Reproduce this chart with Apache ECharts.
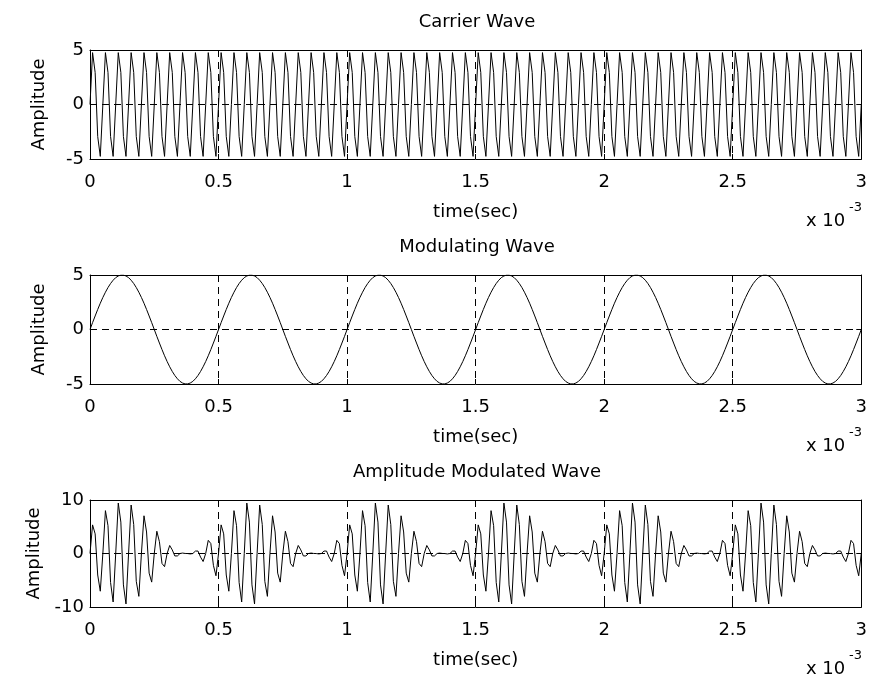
<!DOCTYPE html>
<html>
<head>
<meta charset="utf-8">
<script src="https://cdn.jsdelivr.net/npm/echarts@6/dist/echarts.min.js"></script>
<style>
html, body { margin: 0; padding: 0; background: #fff; }
#main { width: 870px; height: 680px; }
</style>
</head>
<body>
<div id="main"></div>
<script>
// sampled waves, one value every 0.01 ms (x 10^-3 s), 0 .. 3 ms
var carrier = [
0,4.76,2.94,-2.94,-4.76,0,4.76,2.94,-2.94,-4.76,
0,4.76,2.94,-2.94,-4.76,0,4.76,2.94,-2.94,-4.76,
0,4.76,2.94,-2.94,-4.76,0,4.76,2.94,-2.94,-4.76,
0,4.76,2.94,-2.94,-4.76,0,4.76,2.94,-2.94,-4.76,
0,4.76,2.94,-2.94,-4.76,0,4.76,2.94,-2.94,-4.76,
0,4.76,2.94,-2.94,-4.76,0,4.76,2.94,-2.94,-4.76,
0,4.76,2.94,-2.94,-4.76,0,4.76,2.94,-2.94,-4.76,
0,4.76,2.94,-2.94,-4.76,0,4.76,2.94,-2.94,-4.76,
0,4.76,2.94,-2.94,-4.76,0,4.76,2.94,-2.94,-4.76,
0,4.76,2.94,-2.94,-4.76,0,4.76,2.94,-2.94,-4.76,
0,4.76,2.94,-2.94,-4.76,0,4.76,2.94,-2.94,-4.76,
0,4.76,2.94,-2.94,-4.76,0,4.76,2.94,-2.94,-4.76,
0,4.76,2.94,-2.94,-4.76,0,4.76,2.94,-2.94,-4.76,
0,4.76,2.94,-2.94,-4.76,0,4.76,2.94,-2.94,-4.76,
0,4.76,2.94,-2.94,-4.76,0,4.76,2.94,-2.94,-4.76,
0,4.76,2.94,-2.94,-4.76,0,4.76,2.94,-2.94,-4.76,
0,4.76,2.94,-2.94,-4.76,0,4.76,2.94,-2.94,-4.76,
0,4.76,2.94,-2.94,-4.76,0,4.76,2.94,-2.94,-4.76,
0,4.76,2.94,-2.94,-4.76,0,4.76,2.94,-2.94,-4.76,
0,4.76,2.94,-2.94,-4.76,0,4.76,2.94,-2.94,-4.76,
0,4.76,2.94,-2.94,-4.76,0,4.76,2.94,-2.94,-4.76,
0,4.76,2.94,-2.94,-4.76,0,4.76,2.94,-2.94,-4.76,
0,4.76,2.94,-2.94,-4.76,0,4.76,2.94,-2.94,-4.76,
0,4.76,2.94,-2.94,-4.76,0,4.76,2.94,-2.94,-4.76,
0,4.76,2.94,-2.94,-4.76,0,4.76,2.94,-2.94,-4.76,
0,4.76,2.94,-2.94,-4.76,0,4.76,2.94,-2.94,-4.76,
0,4.76,2.94,-2.94,-4.76,0,4.76,2.94,-2.94,-4.76,
0,4.76,2.94,-2.94,-4.76,0,4.76,2.94,-2.94,-4.76,
0,4.76,2.94,-2.94,-4.76,0,4.76,2.94,-2.94,-4.76,
0,4.76,2.94,-2.94,-4.76,0,4.76,2.94,-2.94,-4.76,
0
];

var modulating = [
0,0.63,1.24,1.84,2.41,2.94,3.42,3.85,4.22,4.52,
4.76,4.91,4.99,4.99,4.91,4.76,4.52,4.22,3.85,3.42,
2.94,2.41,1.84,1.24,0.63,0,-0.63,-1.24,-1.84,-2.41,
-2.94,-3.42,-3.85,-4.22,-4.52,-4.76,-4.91,-4.99,-4.99,-4.91,
-4.76,-4.52,-4.22,-3.85,-3.42,-2.94,-2.41,-1.84,-1.24,-0.63,
0,0.63,1.24,1.84,2.41,2.94,3.42,3.85,4.22,4.52,
4.76,4.91,4.99,4.99,4.91,4.76,4.52,4.22,3.85,3.42,
2.94,2.41,1.84,1.24,0.63,0,-0.63,-1.24,-1.84,-2.41,
-2.94,-3.42,-3.85,-4.22,-4.52,-4.76,-4.91,-4.99,-4.99,-4.91,
-4.76,-4.52,-4.22,-3.85,-3.42,-2.94,-2.41,-1.84,-1.24,-0.63,
0,0.63,1.24,1.84,2.41,2.94,3.42,3.85,4.22,4.52,
4.76,4.91,4.99,4.99,4.91,4.76,4.52,4.22,3.85,3.42,
2.94,2.41,1.84,1.24,0.63,0,-0.63,-1.24,-1.84,-2.41,
-2.94,-3.42,-3.85,-4.22,-4.52,-4.76,-4.91,-4.99,-4.99,-4.91,
-4.76,-4.52,-4.22,-3.85,-3.42,-2.94,-2.41,-1.84,-1.24,-0.63,
0,0.63,1.24,1.84,2.41,2.94,3.42,3.85,4.22,4.52,
4.76,4.91,4.99,4.99,4.91,4.76,4.52,4.22,3.85,3.42,
2.94,2.41,1.84,1.24,0.63,0,-0.63,-1.24,-1.84,-2.41,
-2.94,-3.42,-3.85,-4.22,-4.52,-4.76,-4.91,-4.99,-4.99,-4.91,
-4.76,-4.52,-4.22,-3.85,-3.42,-2.94,-2.41,-1.84,-1.24,-0.63,
0,0.63,1.24,1.84,2.41,2.94,3.42,3.85,4.22,4.52,
4.76,4.91,4.99,4.99,4.91,4.76,4.52,4.22,3.85,3.42,
2.94,2.41,1.84,1.24,0.63,0,-0.63,-1.24,-1.84,-2.41,
-2.94,-3.42,-3.85,-4.22,-4.52,-4.76,-4.91,-4.99,-4.99,-4.91,
-4.76,-4.52,-4.22,-3.85,-3.42,-2.94,-2.41,-1.84,-1.24,-0.63,
0,0.63,1.24,1.84,2.41,2.94,3.42,3.85,4.22,4.52,
4.76,4.91,4.99,4.99,4.91,4.76,4.52,4.22,3.85,3.42,
2.94,2.41,1.84,1.24,0.63,0,-0.63,-1.24,-1.84,-2.41,
-2.94,-3.42,-3.85,-4.22,-4.52,-4.76,-4.91,-4.99,-4.99,-4.91,
-4.76,-4.52,-4.22,-3.85,-3.42,-2.94,-2.41,-1.84,-1.24,-0.63,
0
];

var modulated = [
0,5.35,3.67,-4.02,-7.05,0,8.01,5.20,-5.42,-9.06,
0,9.43,5.87,-5.87,-9.43,0,9.06,5.42,-5.20,-8.01,
0,7.05,4.02,-3.67,-5.35,0,4.16,2.21,-1.86,-2.46,
0,1.50,0.67,-0.46,-0.45,0,0.08,0.01,-0.01,-0.08,
0,0.45,0.46,-0.67,-1.50,0,2.46,1.86,-2.21,-4.16,
0,5.35,3.67,-4.02,-7.05,0,8.01,5.20,-5.42,-9.06,
0,9.43,5.87,-5.87,-9.43,0,9.06,5.42,-5.20,-8.01,
0,7.05,4.02,-3.67,-5.35,0,4.16,2.21,-1.86,-2.46,
0,1.50,0.67,-0.46,-0.45,0,0.08,0.01,-0.01,-0.08,
0,0.45,0.46,-0.67,-1.50,0,2.46,1.86,-2.21,-4.16,
0,5.35,3.67,-4.02,-7.05,0,8.01,5.20,-5.42,-9.06,
0,9.43,5.87,-5.87,-9.43,0,9.06,5.42,-5.20,-8.01,
0,7.05,4.02,-3.67,-5.35,0,4.16,2.21,-1.86,-2.46,
0,1.50,0.67,-0.46,-0.45,0,0.08,0.01,-0.01,-0.08,
0,0.45,0.46,-0.67,-1.50,0,2.46,1.86,-2.21,-4.16,
0,5.35,3.67,-4.02,-7.05,0,8.01,5.20,-5.42,-9.06,
0,9.43,5.87,-5.87,-9.43,0,9.06,5.42,-5.20,-8.01,
0,7.05,4.02,-3.67,-5.35,0,4.16,2.21,-1.86,-2.46,
0,1.50,0.67,-0.46,-0.45,0,0.08,0.01,-0.01,-0.08,
0,0.45,0.46,-0.67,-1.50,0,2.46,1.86,-2.21,-4.16,
0,5.35,3.67,-4.02,-7.05,0,8.01,5.20,-5.42,-9.06,
0,9.43,5.87,-5.87,-9.43,0,9.06,5.42,-5.20,-8.01,
0,7.05,4.02,-3.67,-5.35,0,4.16,2.21,-1.86,-2.46,
0,1.50,0.67,-0.46,-0.45,0,0.08,0.01,-0.01,-0.08,
0,0.45,0.46,-0.67,-1.50,0,2.46,1.86,-2.21,-4.16,
0,5.35,3.67,-4.02,-7.05,0,8.01,5.20,-5.42,-9.06,
0,9.43,5.87,-5.87,-9.43,0,9.06,5.42,-5.20,-8.01,
0,7.05,4.02,-3.67,-5.35,0,4.16,2.21,-1.86,-2.46,
0,1.50,0.67,-0.46,-0.45,0,0.08,0.01,-0.01,-0.08,
0,0.45,0.46,-0.67,-1.50,0,2.46,1.86,-2.21,-4.16,
0
];

var titles = ['Carrier Wave', 'Modulating Wave', 'Amplitude Modulated Wave'];
var yLimits = [5, 5, 10];
var gridTops = [50, 275, 500];
var gridHeights = [109, 109, 107];

// sample spacing 0.01 (x 10^-3 sec)
var SAMPLE_STEP = 0.01;
function toPairs(arr){
	return arr.map(function(v, i){ return [i * SAMPLE_STEP, v]; });
}

var FONT = "'DejaVu Sans', 'Liberation Sans', sans-serif";
var FS = 18;
var chart = echarts.init(document.getElementById('main'), null, {renderer: 'canvas'});

var grids = [], xAxes = [], yAxes = [], series = [], titleOpts = [], graphics = [];
var waves = [carrier, modulating, modulated];
var dashed = {show: true, showMinLine: false, showMaxLine: false,
	lineStyle: {color: '#000', width: 1, type: [7, 5]}};

for (var g = 0; g < 3; g++) {
	grids.push({left: 90, right: 6, top: gridTops[g], height: gridHeights[g],
		show: false});
	titleOpts.push({
		text: titles[g], left: 477, top: gridTops[g] - 37, textAlign: 'center', padding: 0,
		textStyle: {fontFamily: FONT, fontSize: FS, fontWeight: 'normal', color: '#000'}
	});
	// bottom axis
	xAxes.push({
		gridIndex: g, type: 'value', min: 0, max: 3, interval: 0.5, position: 'bottom',
		name: 'time(sec)', nameLocation: 'middle', nameGap: 44,
		nameTextStyle: {fontFamily: FONT, fontSize: FS, color: '#000'},
		axisLine: {show: true, onZero: false, lineStyle: {color: '#000', width: 1}},
		axisTick: {show: true, inside: true, length: 5, lineStyle: {color: '#000'}},
		axisLabel: {fontFamily: FONT, fontSize: FS, color: '#000', margin: 14},
		splitLine: dashed
	});
	var lim = yLimits[g];
	yAxes.push({
		gridIndex: g, type: 'value', min: -lim, max: lim, interval: lim, position: 'left',
		name: 'Amplitude', nameLocation: 'middle', nameGap: 42,
		nameTextStyle: {fontFamily: FONT, fontSize: FS, color: '#000'},
		axisLine: {show: true, onZero: false, lineStyle: {color: '#000', width: 1}},
		axisTick: {show: true, inside: true, length: 5, lineStyle: {color: '#000'}},
		axisLabel: {fontFamily: FONT, fontSize: FS, color: '#000', margin: 6},
		splitLine: dashed
	});
	series.push({
		type: 'line', xAxisIndex: g, yAxisIndex: g, data: toPairs(waves[g]),
		showSymbol: false, symbol: 'none', animation: false,
		lineStyle: {color: '#000', width: 1}
	});
	// x 10^-3 exponent label
	graphics.push({
		type: 'text', left: 806, top: gridTops[g] + gridHeights[g] + 53,
		style: {text: 'x 10', font: FS + 'px ' + FONT, fill: '#000'}
	});
	graphics.push({
		type: 'text', left: 849, top: gridTops[g] + gridHeights[g] + 42,
		style: {text: '-3', font: '13px ' + FONT, fill: '#000'}
	});
}
// top and right axes close the box
for (var h = 0; h < 3; h++) {
	xAxes.push({
		gridIndex: h, type: 'value', min: 0, max: 3, interval: 0.5, position: 'top',
		axisLine: {show: true, onZero: false, lineStyle: {color: '#000'}},
		axisTick: {show: true, inside: true, length: 5, lineStyle: {color: '#000'}},
		axisLabel: {show: false}, splitLine: {show: false}
	});
	yAxes.push({
		gridIndex: h, type: 'value', min: -yLimits[h], max: yLimits[h], interval: yLimits[h], position: 'right',
		axisLine: {show: true, onZero: false, lineStyle: {color: '#000'}},
		axisTick: {show: true, inside: true, length: 5, lineStyle: {color: '#000'}},
		axisLabel: {show: false}, splitLine: {show: false}
	});
}

chart.setOption({
	backgroundColor: '#fff',
	animation: false,
	title: titleOpts,
	grid: grids,
	xAxis: xAxes,
	yAxis: yAxes,
	series: series,
	graphic: graphics
});
</script>
</body>
</html>
